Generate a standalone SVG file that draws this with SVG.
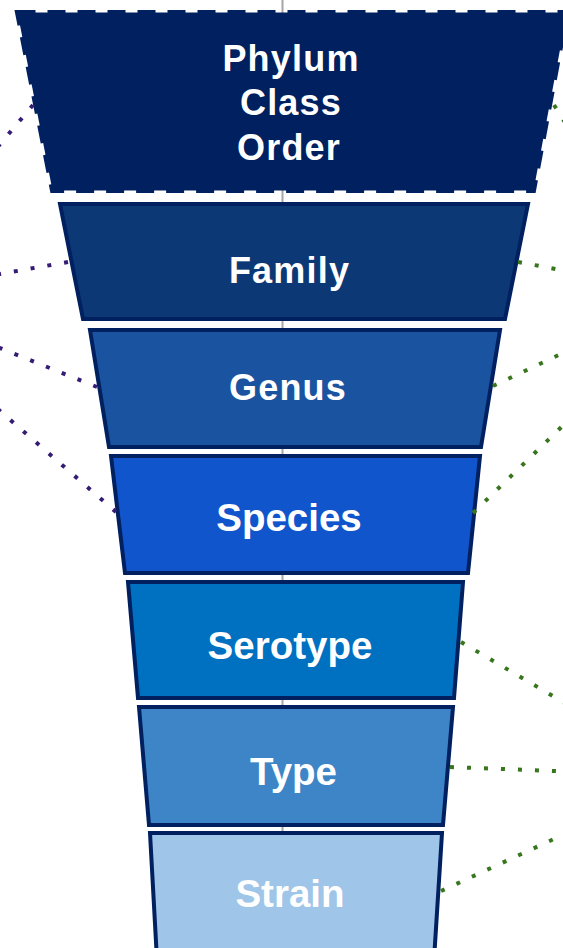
<svg xmlns="http://www.w3.org/2000/svg" width="563" height="948" viewBox="0 0 563 948">
  <style>
    .tier { stroke: #002060; stroke-width: 4; stroke-linejoin: miter; }
    .lbl { font-family: "Liberation Sans", Arial, sans-serif; font-weight: bold; fill: #FFFFFF; text-anchor: middle; font-size: 38.5px; }
    .lbl-sm { font-size: 36px; letter-spacing: 1.2px; }
    .axis { stroke: #A6A6A6; stroke-width: 2; }
    .dots { fill: none; stroke-width: 4; stroke-dasharray: 4 13; stroke-linecap: butt; }
    .left { stroke: #351C75; }
    .right { stroke: #38761D; }
  </style>

  <rect width="563" height="948" fill="#FFFFFF"/>

  <!-- central axis behind the funnel -->
  <line class="axis" x1="282.5" y1="0" x2="282.5" y2="948"/>

  <g id="tier-phylum">
    <path d="M17.5 12.5 L567 12.5 L533.5 190.5 L52.5 190.5 Z" fill="#002060" stroke="#002060" stroke-width="5" stroke-dasharray="18 12"/>
    <text class="lbl lbl-sm" x="291" y="71">Phylum</text>
    <text class="lbl lbl-sm" x="291" y="115">Class</text>
    <text class="lbl lbl-sm" x="289" y="160">Order</text>
  </g>

  <g id="tier-family">
    <path class="tier" d="M60 204 L528 204 L505 319 L83 319 Z" fill="#0D3876"/>
    <text class="lbl lbl-sm" x="289.5" y="283">Family</text>
  </g>

  <g id="tier-genus">
    <path class="tier" d="M90 330 L500 330 L481 447 L109 447 Z" fill="#1A53A0"/>
    <text class="lbl lbl-sm" x="288" y="400">Genus</text>
  </g>

  <g id="tier-species">
    <path class="tier" d="M111 456 L480 456 L468 573 L125 573 Z" fill="#1155CC"/>
    <text class="lbl" x="289" y="531">Species</text>
  </g>

  <g id="tier-serotype">
    <path class="tier" d="M128 582 L463 582 L454 698 L138 698 Z" fill="#0070C0"/>
    <text class="lbl" x="290" y="659">Serotype</text>
  </g>

  <g id="tier-type">
    <path class="tier" d="M139 707 L453 707 L443 825 L149 825 Z" fill="#3D85C6"/>
    <text class="lbl" x="293.5" y="785">Type</text>
  </g>

  <g id="tier-strain">
    <path class="tier" d="M150 833 L442 833 L434 960 L157 960 Z" fill="#9FC5E8"/>
    <text class="lbl" x="290" y="907">Strain</text>
  </g>

  <g id="connectors">
    <line class="dots left" x1="33" y1="105" x2="-20" y2="168"/>
    <line class="dots left" x1="68" y1="262" x2="-20" y2="277.5"/>
    <line class="dots left" x1="97" y1="387" x2="-20" y2="340"/>
    <line class="dots left" x1="116" y1="512" x2="-20" y2="393.5"/>

    <line class="dots right" x1="554" y1="105" x2="580" y2="146"/>
    <line class="dots right" x1="518" y1="262" x2="580" y2="273.5"/>
    <line class="dots right" x1="493" y1="386" x2="580" y2="345"/>
    <line class="dots right" x1="473" y1="513" x2="580" y2="409"/>
    <line class="dots right" x1="461" y1="642" x2="580" y2="712"/>
    <line class="dots right" x1="450" y1="767" x2="580" y2="772"/>
    <line class="dots right" x1="441" y1="891" x2="580" y2="827"/>
  </g>
</svg>
